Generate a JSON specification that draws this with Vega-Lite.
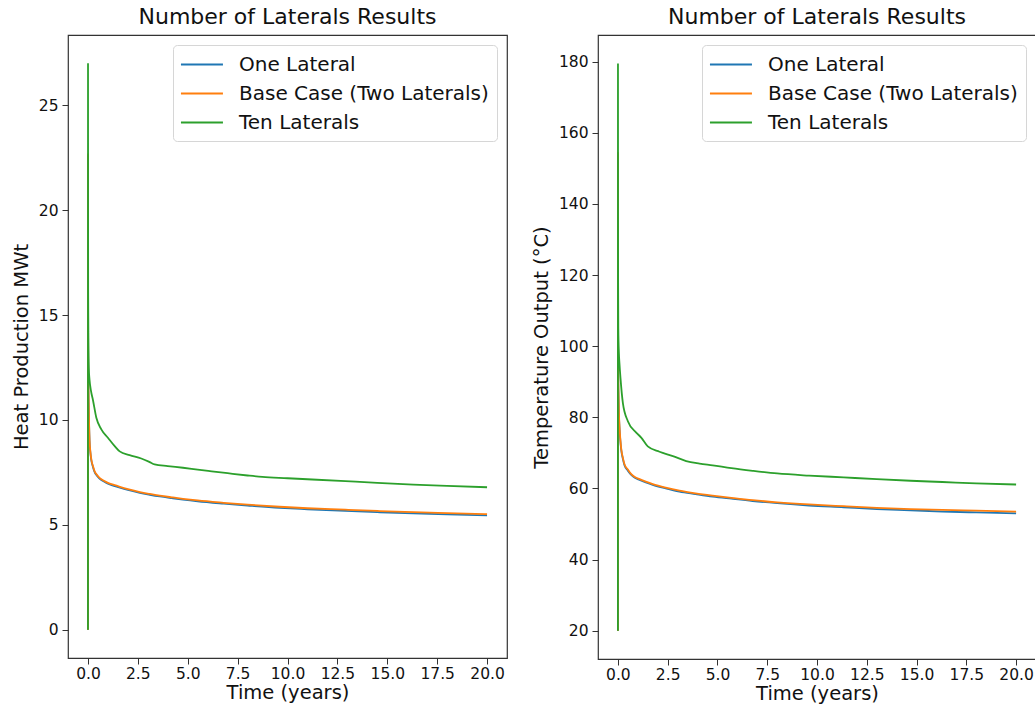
{
  "$schema": "https://vega.github.io/schema/vega-lite/v6.json",
  "background": "white",
  "padding": {"left": 10, "top": 5, "right": 0, "bottom": 0},
  "config": {
    "font": "DejaVu Sans",
    "view": {"stroke": "#333333", "strokeWidth": 1.2},
    "axis": {
      "grid": false,
      "domain": false,
      "tickColor": "#333333",
      "tickSize": 6,
      "tickWidth": 1,
      "labelFont": "DejaVu Sans",
      "labelFontSize": 15.5,
      "labelColor": "#111111",
      "labelPadding": 4,
      "titleFont": "DejaVu Sans",
      "titleFontSize": 19.5,
      "titleFontWeight": "normal",
      "titleColor": "#111111"
    },
    "axisX": {"labelPadding": 2, "titlePadding": 2},
    "axisY": {"titlePadding": 7},
    "title": {"font": "DejaVu Sans", "fontSize": 22, "fontWeight": "normal", "color": "#111111", "offset": 6},
    "legend": {
      "orient": "top-right",
      "offset": 10,
      "symbolType": "M-1.1,0H2.9",
      "symbolSize": 441,
      "symbolStrokeWidth": 2,
      "labelFont": "DejaVu Sans",
      "labelFontSize": 20,
      "labelColor": "#111111",
      "labelLimit": 500,
      "labelOffset": 35,
      "rowPadding": 7,
      "padding": 8,
      "strokeColor": "#d6d6d6",
      "fillColor": "white",
      "cornerRadius": 4
    },
    "concat": {"spacing": 22}
  },
  "datasets": {
    "heat": [
      {"s": "One Lateral", "t": 0, "v": 0}, {"s": "One Lateral", "t": 0.002, "v": 22.6}, {"s": "One Lateral", "t": 0.005, "v": 16.9}, {"s": "One Lateral", "t": 0.01, "v": 13.9}, {"s": "One Lateral", "t": 0.02, "v": 12.0}, {"s": "One Lateral", "t": 0.04, "v": 10.6}, {"s": "One Lateral", "t": 0.08, "v": 9.0}, {"s": "One Lateral", "t": 0.12, "v": 8.45}, {"s": "One Lateral", "t": 0.17, "v": 8.07}, {"s": "One Lateral", "t": 0.25, "v": 7.76}, {"s": "One Lateral", "t": 0.33, "v": 7.52}, {"s": "One Lateral", "t": 0.45, "v": 7.34}, {"s": "One Lateral", "t": 0.58, "v": 7.2}, {"s": "One Lateral", "t": 0.8, "v": 7.06}, {"s": "One Lateral", "t": 1.0, "v": 6.96}, {"s": "One Lateral", "t": 1.3, "v": 6.86}, {"s": "One Lateral", "t": 1.6, "v": 6.77}, {"s": "One Lateral", "t": 2.0, "v": 6.66}, {"s": "One Lateral", "t": 2.6, "v": 6.52}, {"s": "One Lateral", "t": 3.1, "v": 6.43}, {"s": "One Lateral", "t": 3.6, "v": 6.35}, {"s": "One Lateral", "t": 4.2, "v": 6.27}, {"s": "One Lateral", "t": 4.76, "v": 6.2}, {"s": "One Lateral", "t": 5.5, "v": 6.12}, {"s": "One Lateral", "t": 6.8, "v": 6.01}, {"s": "One Lateral", "t": 8.0, "v": 5.92}, {"s": "One Lateral", "t": 9.6, "v": 5.81}, {"s": "One Lateral", "t": 11.0, "v": 5.74}, {"s": "One Lateral", "t": 12.9, "v": 5.66}, {"s": "One Lateral", "t": 14.5, "v": 5.6}, {"s": "One Lateral", "t": 16.3, "v": 5.54}, {"s": "One Lateral", "t": 18.0, "v": 5.5}, {"s": "One Lateral", "t": 20.0, "v": 5.45},
      {"s": "Base Case (Two Laterals)", "t": 0, "v": 0}, {"s": "Base Case (Two Laterals)", "t": 0.002, "v": 22.7}, {"s": "Base Case (Two Laterals)", "t": 0.005, "v": 17.0}, {"s": "Base Case (Two Laterals)", "t": 0.01, "v": 14.0}, {"s": "Base Case (Two Laterals)", "t": 0.02, "v": 12.1}, {"s": "Base Case (Two Laterals)", "t": 0.04, "v": 10.7}, {"s": "Base Case (Two Laterals)", "t": 0.08, "v": 9.07}, {"s": "Base Case (Two Laterals)", "t": 0.12, "v": 8.5}, {"s": "Base Case (Two Laterals)", "t": 0.17, "v": 8.11}, {"s": "Base Case (Two Laterals)", "t": 0.25, "v": 7.8}, {"s": "Base Case (Two Laterals)", "t": 0.33, "v": 7.56}, {"s": "Base Case (Two Laterals)", "t": 0.45, "v": 7.38}, {"s": "Base Case (Two Laterals)", "t": 0.58, "v": 7.24}, {"s": "Base Case (Two Laterals)", "t": 0.8, "v": 7.1}, {"s": "Base Case (Two Laterals)", "t": 1.0, "v": 7.0}, {"s": "Base Case (Two Laterals)", "t": 1.3, "v": 6.9}, {"s": "Base Case (Two Laterals)", "t": 1.6, "v": 6.81}, {"s": "Base Case (Two Laterals)", "t": 2.0, "v": 6.7}, {"s": "Base Case (Two Laterals)", "t": 2.6, "v": 6.56}, {"s": "Base Case (Two Laterals)", "t": 3.1, "v": 6.47}, {"s": "Base Case (Two Laterals)", "t": 3.6, "v": 6.39}, {"s": "Base Case (Two Laterals)", "t": 4.2, "v": 6.31}, {"s": "Base Case (Two Laterals)", "t": 4.76, "v": 6.24}, {"s": "Base Case (Two Laterals)", "t": 5.5, "v": 6.16}, {"s": "Base Case (Two Laterals)", "t": 6.8, "v": 6.05}, {"s": "Base Case (Two Laterals)", "t": 8.0, "v": 5.96}, {"s": "Base Case (Two Laterals)", "t": 9.6, "v": 5.86}, {"s": "Base Case (Two Laterals)", "t": 11.0, "v": 5.79}, {"s": "Base Case (Two Laterals)", "t": 12.9, "v": 5.72}, {"s": "Base Case (Two Laterals)", "t": 14.5, "v": 5.66}, {"s": "Base Case (Two Laterals)", "t": 16.3, "v": 5.6}, {"s": "Base Case (Two Laterals)", "t": 18.0, "v": 5.56}, {"s": "Base Case (Two Laterals)", "t": 20.0, "v": 5.51},
      {"s": "Ten Laterals", "t": 0, "v": 0}, {"s": "Ten Laterals", "t": 0.003, "v": 27.0}, {"s": "Ten Laterals", "t": 0.006, "v": 20.0}, {"s": "Ten Laterals", "t": 0.01, "v": 16.2}, {"s": "Ten Laterals", "t": 0.02, "v": 13.7}, {"s": "Ten Laterals", "t": 0.04, "v": 12.5}, {"s": "Ten Laterals", "t": 0.08, "v": 11.9}, {"s": "Ten Laterals", "t": 0.15, "v": 11.4}, {"s": "Ten Laterals", "t": 0.25, "v": 10.95}, {"s": "Ten Laterals", "t": 0.42, "v": 10.1}, {"s": "Ten Laterals", "t": 0.67, "v": 9.55}, {"s": "Ten Laterals", "t": 1.0, "v": 9.15}, {"s": "Ten Laterals", "t": 1.34, "v": 8.75}, {"s": "Ten Laterals", "t": 1.59, "v": 8.5}, {"s": "Ten Laterals", "t": 2.09, "v": 8.32}, {"s": "Ten Laterals", "t": 2.67, "v": 8.16}, {"s": "Ten Laterals", "t": 3.09, "v": 7.99}, {"s": "Ten Laterals", "t": 3.34, "v": 7.88}, {"s": "Ten Laterals", "t": 4.0, "v": 7.8}, {"s": "Ten Laterals", "t": 4.76, "v": 7.72}, {"s": "Ten Laterals", "t": 5.5, "v": 7.63}, {"s": "Ten Laterals", "t": 6.2, "v": 7.55}, {"s": "Ten Laterals", "t": 7.0, "v": 7.46}, {"s": "Ten Laterals", "t": 8.0, "v": 7.35}, {"s": "Ten Laterals", "t": 8.74, "v": 7.28}, {"s": "Ten Laterals", "t": 10.0, "v": 7.22}, {"s": "Ten Laterals", "t": 11.24, "v": 7.16}, {"s": "Ten Laterals", "t": 12.9, "v": 7.08}, {"s": "Ten Laterals", "t": 14.5, "v": 7.0}, {"s": "Ten Laterals", "t": 16.3, "v": 6.92}, {"s": "Ten Laterals", "t": 18.0, "v": 6.86}, {"s": "Ten Laterals", "t": 20.0, "v": 6.79}
    ],
    "temp": [
      {"s": "One Lateral", "t": 0, "v": 20}, {"s": "One Lateral", "t": 0.002, "v": 154}, {"s": "One Lateral", "t": 0.005, "v": 117}, {"s": "One Lateral", "t": 0.01, "v": 99.5}, {"s": "One Lateral", "t": 0.02, "v": 89.5}, {"s": "One Lateral", "t": 0.03, "v": 86.5}, {"s": "One Lateral", "t": 0.05, "v": 81}, {"s": "One Lateral", "t": 0.08, "v": 77}, {"s": "One Lateral", "t": 0.12, "v": 73.5}, {"s": "One Lateral", "t": 0.17, "v": 70.7}, {"s": "One Lateral", "t": 0.25, "v": 68.3}, {"s": "One Lateral", "t": 0.33, "v": 66.5}, {"s": "One Lateral", "t": 0.5, "v": 65.0}, {"s": "One Lateral", "t": 0.67, "v": 63.8}, {"s": "One Lateral", "t": 0.85, "v": 63.0}, {"s": "One Lateral", "t": 1.09, "v": 62.4}, {"s": "One Lateral", "t": 1.4, "v": 61.7}, {"s": "One Lateral", "t": 1.75, "v": 61.0}, {"s": "One Lateral", "t": 2.4, "v": 60.0}, {"s": "One Lateral", "t": 3.09, "v": 59.1}, {"s": "One Lateral", "t": 3.9, "v": 58.4}, {"s": "One Lateral", "t": 4.76, "v": 57.7}, {"s": "One Lateral", "t": 5.7, "v": 57.1}, {"s": "One Lateral", "t": 6.77, "v": 56.45}, {"s": "One Lateral", "t": 8.0, "v": 55.85}, {"s": "One Lateral", "t": 9.6, "v": 55.2}, {"s": "One Lateral", "t": 11.34, "v": 54.7}, {"s": "One Lateral", "t": 13.0, "v": 54.2}, {"s": "One Lateral", "t": 14.7, "v": 53.85}, {"s": "One Lateral", "t": 16.3, "v": 53.5}, {"s": "One Lateral", "t": 18.0, "v": 53.25}, {"s": "One Lateral", "t": 20.0, "v": 53.0},
      {"s": "Base Case (Two Laterals)", "t": 0, "v": 20}, {"s": "Base Case (Two Laterals)", "t": 0.002, "v": 154.5}, {"s": "Base Case (Two Laterals)", "t": 0.005, "v": 118}, {"s": "Base Case (Two Laterals)", "t": 0.01, "v": 100}, {"s": "Base Case (Two Laterals)", "t": 0.02, "v": 90}, {"s": "Base Case (Two Laterals)", "t": 0.03, "v": 87}, {"s": "Base Case (Two Laterals)", "t": 0.05, "v": 81.5}, {"s": "Base Case (Two Laterals)", "t": 0.08, "v": 77.5}, {"s": "Base Case (Two Laterals)", "t": 0.12, "v": 74}, {"s": "Base Case (Two Laterals)", "t": 0.17, "v": 71}, {"s": "Base Case (Two Laterals)", "t": 0.25, "v": 68.6}, {"s": "Base Case (Two Laterals)", "t": 0.33, "v": 66.8}, {"s": "Base Case (Two Laterals)", "t": 0.5, "v": 65.3}, {"s": "Base Case (Two Laterals)", "t": 0.67, "v": 64.0}, {"s": "Base Case (Two Laterals)", "t": 0.85, "v": 63.2}, {"s": "Base Case (Two Laterals)", "t": 1.09, "v": 62.6}, {"s": "Base Case (Two Laterals)", "t": 1.4, "v": 61.9}, {"s": "Base Case (Two Laterals)", "t": 1.75, "v": 61.2}, {"s": "Base Case (Two Laterals)", "t": 2.4, "v": 60.2}, {"s": "Base Case (Two Laterals)", "t": 3.09, "v": 59.35}, {"s": "Base Case (Two Laterals)", "t": 3.9, "v": 58.6}, {"s": "Base Case (Two Laterals)", "t": 4.76, "v": 57.96}, {"s": "Base Case (Two Laterals)", "t": 5.7, "v": 57.35}, {"s": "Base Case (Two Laterals)", "t": 6.77, "v": 56.7}, {"s": "Base Case (Two Laterals)", "t": 8.0, "v": 56.1}, {"s": "Base Case (Two Laterals)", "t": 9.6, "v": 55.5}, {"s": "Base Case (Two Laterals)", "t": 11.34, "v": 55.0}, {"s": "Base Case (Two Laterals)", "t": 13.0, "v": 54.55}, {"s": "Base Case (Two Laterals)", "t": 14.7, "v": 54.2}, {"s": "Base Case (Two Laterals)", "t": 16.3, "v": 53.95}, {"s": "Base Case (Two Laterals)", "t": 18.0, "v": 53.75}, {"s": "Base Case (Two Laterals)", "t": 20.0, "v": 53.5},
      {"s": "Ten Laterals", "t": 0, "v": 20}, {"s": "Ten Laterals", "t": 0.003, "v": 179.5}, {"s": "Ten Laterals", "t": 0.006, "v": 140}, {"s": "Ten Laterals", "t": 0.01, "v": 118}, {"s": "Ten Laterals", "t": 0.02, "v": 105}, {"s": "Ten Laterals", "t": 0.05, "v": 98}, {"s": "Ten Laterals", "t": 0.08, "v": 95}, {"s": "Ten Laterals", "t": 0.13, "v": 91}, {"s": "Ten Laterals", "t": 0.25, "v": 84}, {"s": "Ten Laterals", "t": 0.5, "v": 78.9}, {"s": "Ten Laterals", "t": 0.92, "v": 75.7}, {"s": "Ten Laterals", "t": 1.17, "v": 74.3}, {"s": "Ten Laterals", "t": 1.5, "v": 71.8}, {"s": "Ten Laterals", "t": 2.09, "v": 70.3}, {"s": "Ten Laterals", "t": 2.76, "v": 69.1}, {"s": "Ten Laterals", "t": 3.43, "v": 67.7}, {"s": "Ten Laterals", "t": 4.1, "v": 67.0}, {"s": "Ten Laterals", "t": 4.76, "v": 66.5}, {"s": "Ten Laterals", "t": 5.7, "v": 65.7}, {"s": "Ten Laterals", "t": 6.77, "v": 64.95}, {"s": "Ten Laterals", "t": 8.0, "v": 64.2}, {"s": "Ten Laterals", "t": 9.6, "v": 63.6}, {"s": "Ten Laterals", "t": 11.34, "v": 63.1}, {"s": "Ten Laterals", "t": 13.0, "v": 62.6}, {"s": "Ten Laterals", "t": 14.7, "v": 62.15}, {"s": "Ten Laterals", "t": 16.3, "v": 61.8}, {"s": "Ten Laterals", "t": 18.0, "v": 61.4}, {"s": "Ten Laterals", "t": 20.0, "v": 61.1}
    ]
  },
  "hconcat": [
    {
      "title": "Number of Laterals Results",
      "width": 439,
      "height": 623,
      "data": {"name": "heat"},
      "mark": {"type": "line", "strokeWidth": 1.8, "interpolate": "monotone", "clip": true},
      "encoding": {
        "x": {"field": "t", "type": "quantitative", "scale": {"domain": [-1, 21], "nice": false, "zero": false},
              "axis": {"title": "Time (years)", "values": [0, 2.5, 5, 7.5, 10, 12.5, 15, 17.5, 20], "format": ".1f"}},
        "y": {"field": "v", "type": "quantitative", "scale": {"domain": [-1.35, 28.35], "nice": false, "zero": false},
              "axis": {"title": "Heat Production MWt", "values": [0, 5, 10, 15, 20, 25], "format": "d"}},
        "color": {"field": "s", "type": "nominal",
                  "scale": {"domain": ["One Lateral", "Base Case (Two Laterals)", "Ten Laterals"], "range": ["#1f77b4", "#ff7f0e", "#2ca02c"]},
                  "legend": {"title": null}}
      }
    },
    {
      "title": "Number of Laterals Results",
      "width": 438,
      "height": 624,
      "data": {"name": "temp"},
      "mark": {"type": "line", "strokeWidth": 1.8, "interpolate": "monotone", "clip": true},
      "encoding": {
        "x": {"field": "t", "type": "quantitative", "scale": {"domain": [-1, 21], "nice": false, "zero": false},
              "axis": {"title": "Time (years)", "values": [0, 2.5, 5, 7.5, 10, 12.5, 15, 17.5, 20], "format": ".1f"}},
        "y": {"field": "v", "type": "quantitative", "scale": {"domain": [12.03, 187.5], "nice": false, "zero": false},
              "axis": {"title": "Temperature Output (°C)", "values": [20, 40, 60, 80, 100, 120, 140, 160, 180], "format": "d"}},
        "color": {"field": "s", "type": "nominal",
                  "scale": {"domain": ["One Lateral", "Base Case (Two Laterals)", "Ten Laterals"], "range": ["#1f77b4", "#ff7f0e", "#2ca02c"]},
                  "legend": {"title": null}}
      }
    }
  ],
  "resolve": {"scale": {"color": "independent"}, "legend": {"color": "independent"}}
}
